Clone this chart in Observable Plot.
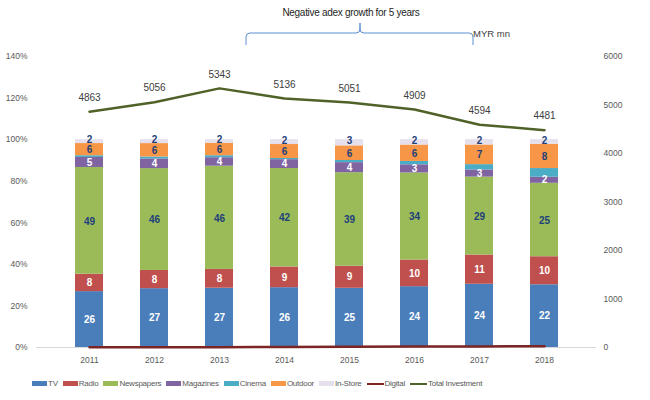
<!DOCTYPE html>
<html>
<head>
<meta charset="utf-8">
<script src="https://cdn.jsdelivr.net/npm/d3@7"></script>
<script src="https://cdn.jsdelivr.net/npm/@observablehq/plot@0.6"></script>
<style>
  html, body { margin: 0; padding: 0; background: #fff; }
  #wrap { position: relative; width: 650px; height: 400px; overflow: hidden; font-family: "Liberation Sans", Arial, sans-serif; }
  #chart { position: absolute; left: 0; top: 0; }
  #annot { position: absolute; left: 0; top: 0; pointer-events: none; }
  #legend { position: absolute; left: 32px; top: 379px; display: flex; align-items: center; font-size: 8px; letter-spacing: -0.25px; color: #595959; white-space: nowrap; }
  #legend .item { display: flex; align-items: center; margin-right: 5px; }
  #legend .sw { width: 15px; height: 5px; margin-right: 1px; }
  #legend .ln { width: 17px; height: 2px; margin-right: 1px; }
</style>
</head>
<body>
<div id="wrap">
  <div id="chart"></div>
  <svg id="annot" width="650" height="60"></svg>
  <div id="legend"></div>
</div>
<script>
// ---- data (shares of total adex, %; total in MYR mn) ----
const years = ["2011", "2012", "2013", "2014", "2015", "2016", "2017", "2018"];
const tv         = [25.7, 26.8, 26.6, 25.7, 24.7, 23.7, 23.8, 21.7];
const radio      = [8.0, 8.3, 8.4, 8.9, 9.2, 10.4, 11.0, 9.7];
const newspapers = [49.1, 46.4, 46.3, 42.3, 39.0, 33.9, 29.3, 25.4];
const magazines  = [4.6, 4.4, 3.8, 3.8, 4.2, 3.2, 2.7, 2.1];
const cinema     = [0.8, 0.9, 0.9, 0.5, 0.9, 1.3, 2.0, 3.0];
const outdoor    = [5.6, 6.1, 5.6, 6.0, 6.1, 6.4, 7.4, 8.4];
const inStore    = [1.8, 1.8, 1.6, 2.1, 2.6, 2.1, 2.0, 1.6];
const digital    = [4.4, 5.3, 6.8, 10.7, 13.3, 19.0, 21.8, 28.1];
const totalInvestment = [4863, 5056, 5343, 5136, 5051, 4909, 4594, 4481];

const categories = ["TV", "Radio", "Newspapers", "Magazines", "Cinema", "Outdoor", "In-Store"];
const series = [tv, radio, newspapers, magazines, cinema, outdoor, inStore];
const colors = ["#4A7EBB", "#C0504D", "#9BBB59", "#8064A2", "#4BACC6", "#F79646", "#E6E0EC"];
const whiteLabels = new Set(["TV", "Radio", "Magazines"]);
const blueLabels = new Set(["Newspapers", "Outdoor"]);
const lineColors = {digital: "#7B2525", total: "#4F6228"};

const pctTicks = [0, 0.2, 0.4, 0.6, 0.8, 1.0, 1.2, 1.4];
const myrTicks = [0, 1000, 2000, 3000, 4000, 5000, 6000];
const PCT_MAX = 1.4, MYR_MAX = 6000;
const toPct = v => v / MYR_MAX * PCT_MAX;

const rows = [];
years.forEach((y, i) => categories.forEach((c, j) => rows.push({year: y, cat: c, value: series[j][i]})));
const totals = years.map((y, i) => ({year: y, v: totalInvestment[i]}));
const digi = years.map((y, i) => ({year: y, v: digital[i]}));

const stackOpts = (extra) => Plot.stackY({x: "year", y: "value", offset: "normalize", ...extra});
const labelBlue = "#1F3F7A";

const chart = Plot.plot({
  width: 650,
  height: 372,
  marginLeft: 36,
  marginRight: 54,
  marginTop: 56,
  marginBottom: 25,
  x: {domain: years, padding: 0.57, label: null},
  y: {domain: [0, PCT_MAX], label: null},
  color: {domain: categories, range: colors},
  style: {fontFamily: "'Liberation Sans', Arial, sans-serif", fontSize: "8.5px", color: "#595959", background: "#fff"},
  marks: [
    Plot.axisY(pctTicks, {tickFormat: d => Math.round(d * 100) + "%", tickSize: 0, tickPadding: 9, label: null}),
    Plot.axisY(myrTicks.map(toPct), {anchor: "right", tickFormat: d => String(Math.round(d / PCT_MAX * MYR_MAX)), tickSize: 0, tickPadding: 7, textAnchor: "start", label: null}),
    Plot.axisX({tickSize: 0, tickPadding: 9, label: null}),
    Plot.ruleY([0], {stroke: "#d9d9d9"}),
    Plot.barY(rows, stackOpts({fill: "cat"})),
    Plot.text(rows, stackOpts({text: d => whiteLabels.has(d.cat) ? String(Math.round(d.value)) : "", fill: "white", fontWeight: "bold", fontSize: 10})),
    Plot.text(rows, stackOpts({text: d => blueLabels.has(d.cat) ? String(Math.round(d.value)) : "", fill: labelBlue, fontWeight: "bold", fontSize: 10, dy: 0.5})),
    Plot.text(rows, stackOpts({text: d => d.cat === "In-Store" ? String(Math.round(d.value)) : "", fill: labelBlue, fontWeight: "bold", fontSize: 10, dy: -1.5})),
    Plot.lineY(digi, {x: "year", y: d => toPct(d.v), stroke: lineColors.digital, strokeWidth: 2.5}),
    Plot.lineY(totals, {x: "year", y: d => toPct(d.v), stroke: lineColors.total, strokeWidth: 2.5}),
    Plot.text(totals, {x: "year", y: d => toPct(d.v), text: d => String(d.v), dy: -14, fontSize: 10, fill: "#404040"})
  ]
});
document.getElementById("chart").appendChild(chart);

// ---- annotation: brace + text ----
const annot = d3.select("#annot");
annot.append("text").attr("x", 351).attr("y", 16).attr("text-anchor", "middle")
  .attr("font-size", 10).attr("letter-spacing", -0.3).attr("fill", "#262626").text("Negative adex growth for 5 years");
annot.append("path")
  .attr("d", "M246,45 L246,37 Q246,33 250,33 L356,33 Q360,33 360,29 L360,23 M360,23 L360,29 Q360,33 364,33 L469,33 Q473,33 473,37 L473,45")
  .attr("fill", "none").attr("stroke", "#5B8FD0").attr("stroke-width", 1);
annot.append("text").attr("x", 473).attr("y", 37).attr("font-size", 9.5).attr("fill", "#404040").text("MYR mn");

// ---- legend ----
const legend = d3.select("#legend");
categories.forEach((c, j) => {
  const it = legend.append("div").attr("class", "item");
  it.append("div").attr("class", "sw").style("background", colors[j]);
  it.append("span").text(c);
});
[["Digital", lineColors.digital], ["Total Investment", lineColors.total]].forEach(([name, col]) => {
  const it = legend.append("div").attr("class", "item");
  it.append("div").attr("class", "ln").style("background", col);
  it.append("span").text(name);
});
</script>
</body>
</html>
